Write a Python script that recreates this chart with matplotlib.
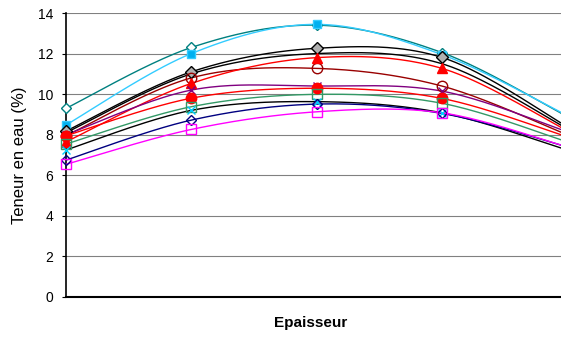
import numpy as np
import matplotlib
matplotlib.use("Agg")
import matplotlib.pyplot as plt

plt.rcParams['font.family'] = ['Liberation Sans', 'DejaVu Sans']

positions = [0, 1, 2, 3, 4]
yticks = [0, 2, 4, 6, 8, 10, 12, 14]

teal_diamond = [9.3, 12.3, 13.4, 12.05, 8.9]
cyan_square = [8.48, 12.0, 13.44, 11.95, 8.95]
gray_diamond = [8.18, 11.1, 12.26, 11.81, 8.4]
black_plain = [8.1, 11.0, 12.0, 11.5, 8.3]
maroon_circle = [7.95, 10.8, 11.27, 10.4, 8.0]
red_triangle = [7.65, 10.53, 11.8, 11.27, 8.2]
purple_star = [8.0, 10.2, 10.4, 10.15, 8.15]
red_circle = [7.95, 9.8, 10.29, 9.79, 7.9]
green_square = [7.54, 9.38, 9.99, 9.55, 7.65]
black_cyanx = [7.25, 9.2, 9.63, 9.08, 7.25]
navy_diamond = [6.75, 8.72, 9.51, 9.05, 7.4]
magenta_square = [6.54, 8.26, 9.13, 9.08, 7.4]

series = [
    (teal_diamond, dict(color='#008080', marker='D', mfc='white', mec='#008080', ms=5.5)),
    (cyan_square, dict(color='#33CCFF', marker='s', mfc='#00B0F0', mec='#33CCFF', ms=6)),
    (black_plain, dict(color='black', marker='None')),
    (gray_diamond, dict(color='black', marker='D', mfc='#B0B0B0', mec='black', ms=6)),
    (maroon_circle, dict(color='#990000', marker='o', mfc='none', mec='#990000', ms=7.5)),
    (red_triangle, dict(color='#FF0000', marker='^', mfc='#FF0000', mec='#FF0000', ms=7.5)),
    (purple_star, dict(color='#800080', marker='x', mfc='none', mec='#800080', ms=5.5)),
    (red_circle, dict(color='#FF0000', marker='o', mfc='#FF0000', mec='#FF0000', ms=7.5)),
    (green_square, dict(color='#339966', marker='s', mfc='none', mec='#339966', ms=6.5)),
    (black_cyanx, dict(color='black', marker='x', mfc='none', mec='#00CCFF', ms=5.5)),
    (navy_diamond, dict(color='#000080', marker='D', mfc='none', mec='#000080', ms=5.5)),
    (magenta_square, dict(color='#FF00FF', marker='s', mfc='none', mec='#FF00FF', ms=6.5)),
]


def smooth(xs, ys, n=40):
    xs = np.asarray(xs, float)
    ys = np.asarray(ys, float)
    P = np.column_stack([xs, ys])
    out = []
    for i in range(len(P) - 1):
        p0 = P[i - 1] if i > 0 else P[i]
        p1 = P[i]
        p2 = P[i + 1]
        p3 = P[i + 2] if i + 2 < len(P) else P[i + 1]
        c1 = p1 + (p2 - p0) / 6.0
        c2 = p2 - (p3 - p1) / 6.0
        t = np.linspace(0, 1, n)[:, None]
        seg = ((1 - t) ** 3) * p1 + 3 * ((1 - t) ** 2) * t * c1 + 3 * (1 - t) * t ** 2 * c2 + t ** 3 * p2
        out.append(seg if i == 0 else seg[1:])
    c = np.vstack(out)
    return c[:, 0], c[:, 1]


fig = plt.figure(figsize=(5.61, 3.38), dpi=100)
ax = fig.add_axes([66 / 561, 41 / 338, 1 - 66 / 561, 284 / 338])
xmax = (561 - 66) / 125.3

for vals, st in series:
    sx, sy = smooth(positions, vals)
    ax.plot(sx, sy, color=st['color'], lw=1.0, zorder=3)
    if st['marker'] != 'None':
        vis = [i for i, p in enumerate(positions) if p <= xmax]
        ax.plot([positions[i] for i in vis], [vals[i] for i in vis], linestyle='none',
                marker=st['marker'], mfc=st['mfc'], mec=st['mec'], ms=st['ms'], mew=1.0,
                zorder=4, clip_on=False)

ax.set_xlim(0, xmax)
ax.set_ylim(0, 14)
ax.set_yticks(yticks)
ax.set_yticklabels([str(v) for v in yticks], fontsize=10)
ax.set_xticks([])
ax.grid(axis='y', color='#808080', lw=0.8, zorder=0)
ax.tick_params(axis='y', direction='out', length=3, width=0.8, pad=6)
for side in ['top', 'right']:
    ax.spines[side].set_visible(False)
ax.spines['left'].set_linewidth(1.2)
ax.spines['bottom'].set_linewidth(1.5)
ax.axhline(14, color='#404040', lw=1.3, zorder=1)

ax.set_ylabel('Teneur en eau (%)', fontsize=12, labelpad=8)
fig.text((66 + 561) / 2 / 561 - 0.005, 1 - 323 / 338, 'Epaisseur', fontsize=11, fontweight='bold',
         ha='center', va='center')

fig.savefig('out.png', dpi=100)
